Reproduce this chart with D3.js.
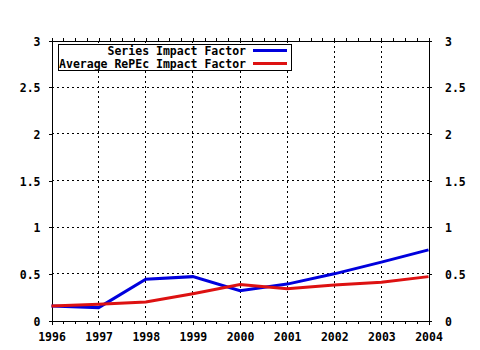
<!DOCTYPE html>
<html>
<head>
<meta charset="utf-8">
<script src="https://cdn.jsdelivr.net/npm/d3@7"></script>
<style>
html,body{margin:0;padding:0;background:#fff;}
svg{display:block;}
text{font-family:"DejaVu Sans Mono","Liberation Mono",monospace;font-weight:bold;font-size:11.5px;fill:#000;}
</style>
</head>
<body>
<svg id="chart" width="480" height="350"></svg>
<script>
const years = [1996, 1997, 1998, 1999, 2000, 2001, 2002, 2003, 2004];
const seriesImpact = [0.155, 0.138, 0.443, 0.47, 0.32, 0.39, 0.50, 0.625, 0.757];
const avgImpact = [0.156, 0.174, 0.199, 0.287, 0.385, 0.34, 0.38, 0.41, 0.47];
const yTicks = [0, 0.5, 1, 1.5, 2, 2.5, 3];
const yTickLabels = ["0", "0.5", "1", "1.5", "2", "2.5", "3"];
const seriesNames = ["Series Impact Factor", "Average RePEc Impact Factor"];
const seriesColors = ["#0000dd", "#dd1111"];

const svg = d3.select("#chart");
const x = d3.scaleLinear().domain([1996, 2004]).range([51.5, 428.5]);
const y = d3.scaleLinear().domain([0, 3]).range([320.5, 40.5]);

// grid
const grid = svg.append("g").attr("shape-rendering", "crispEdges");
grid.selectAll("line.gx").data(years.slice(1, -1)).join("line")
  .attr("x1", d => Math.round(x(d) - 0.5) + 0.5).attr("x2", d => Math.round(x(d) - 0.5) + 0.5)
  .attr("y1", y(3)).attr("y2", y(0))
  .attr("stroke", "#000").attr("stroke-dasharray", "2,3");
grid.selectAll("line.gy").data(yTicks.slice(1, -1)).join("line")
  .attr("y1", d => Math.round(y(d) - 0.5) + 0.5).attr("y2", d => Math.round(y(d) - 0.5) + 0.5)
  .attr("x1", x(1996)).attr("x2", x(2004))
  .attr("stroke", "#000").attr("stroke-dasharray", "2,3");

// minor ticks (quarter years)
const minorTicks = d3.range(1996, 2004.001, 0.25);
const fmtY = d => yTickLabels[yTicks.indexOf(d)];

const axBottom = svg.append("g").attr("transform", `translate(0,${y(0)})`)
  .call(d3.axisBottom(x).tickValues(years).tickSize(4).tickFormat(d3.format("d")));
axBottom.selectAll("text").attr("y", 20.5).attr("dy", 0);
svg.append("g").attr("transform", `translate(0,${y(0)})`)
  .call(d3.axisBottom(x).tickValues(minorTicks).tickSize(3).tickFormat(""));
svg.append("g").attr("transform", `translate(0,${y(3)})`)
  .call(d3.axisTop(x).tickValues(minorTicks).tickSize(3).tickFormat(""));

const axLeft = svg.append("g").attr("transform", `translate(${x(1996)},0)`)
  .call(d3.axisLeft(y).tickValues(yTicks).tickSize(3).tickFormat(fmtY));
axLeft.selectAll("text").attr("x", -11).attr("dy", 0).attr("y", 4.5);
const axRight = svg.append("g").attr("transform", `translate(${x(2004)},0)`)
  .call(d3.axisRight(y).tickValues(yTicks).tickSize(3).tickFormat(fmtY));
axRight.selectAll("text").attr("x", 16.5).attr("dy", 0).attr("y", 4.5);

svg.selectAll(".domain").attr("stroke", "#000").attr("shape-rendering", "crispEdges");
svg.selectAll(".tick line").attr("stroke", "#000").attr("shape-rendering", "crispEdges");
svg.selectAll(".tick text").style("font-family", '"DejaVu Sans Mono", monospace')
  .style("font-weight", "bold").style("font-size", "11.5px").attr("fill", "#000");

// lines
const line = d3.line().x((d, i) => x(years[i])).y(d => y(d));
[seriesImpact, avgImpact].forEach((s, k) => {
  svg.append("path").datum(s).attr("d", line)
    .attr("fill", "none").attr("stroke", seriesColors[k])
    .attr("stroke-width", 3).attr("stroke-linejoin", "miter");
});

// legend
const lg = svg.append("g");
lg.append("rect").attr("x", 58.5).attr("y", 44.5).attr("width", 233).attr("height", 26)
  .attr("fill", "#fff").attr("stroke", "#000").attr("shape-rendering", "crispEdges");
seriesNames.forEach((n, k) => {
  const yy = 50.5 + k * 13;
  lg.append("text").attr("x", 246).attr("y", yy + 4.5).attr("text-anchor", "end").text(n);
  lg.append("line").attr("x1", 253).attr("x2", 287).attr("y1", yy).attr("y2", yy)
    .attr("stroke", seriesColors[k]).attr("stroke-width", 3);
});
</script>
</body>
</html>
